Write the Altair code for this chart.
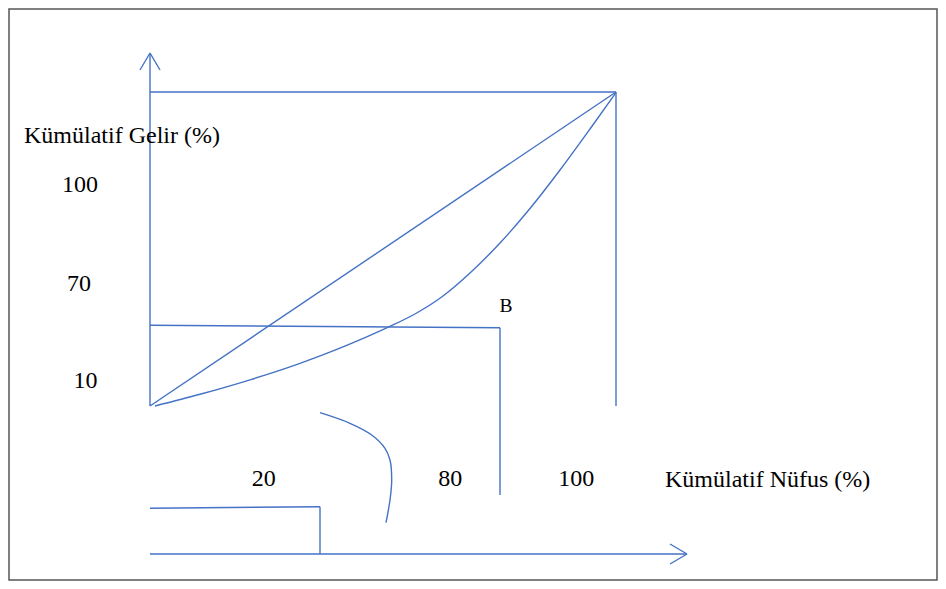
import altair as alt
import pandas as pd

# Diagram coordinates are given in the page's own pixel units (x right, y down)
# straight segments: start (x1, y1) -> end (x2, y2)
seg_name = ["y_axis", "top", "right", "diagonal", "b_horiz", "b_vert",
            "step_h", "step_v", "x_axis", "up_arm_l", "up_arm_r", "rt_arm_t", "rt_arm_b"]
seg_x1 = [150, 150, 616, 150, 150, 500, 150, 320, 150, 140, 160, 670, 670]
seg_y1 = [53, 92, 92, 406, 325.3, 327.7, 508.3, 506.7, 554, 70, 70, 544, 564]
seg_x2 = [150, 616, 616, 616, 500, 500, 320, 320, 687, 150, 150, 687, 687]
seg_y2 = [406, 92, 406, 92, 327.7, 495, 506.7, 554, 554, 53, 53, 554, 554]

# Lorenz curve
lorenz_x = [155, 200, 250, 300, 340, 366.7, 388.3, 416.7, 443, 470, 500, 530, 560, 590, 616]
lorenz_y = [406, 394.3, 379.8, 363.3, 348.1, 336.9, 327.2, 313, 296, 273, 243, 208.5, 170, 129, 92.5]

# small bracket-like curve
brace_x = [320, 350, 371.7, 385, 390, 391.7, 390, 386]
brace_y = [412.7, 423.3, 435, 448.3, 460, 480, 500, 522.7]

# labels: text, left x, baseline y, font size
label_text = ["Kümülatif Gelir (%)", "100", "70", "10", "B",
              "20", "80", "100", "Kümülatif Nüfus (%)"]
label_x = [24, 62, 67, 73.5, 499.5, 251.7, 438.3, 558.3, 665]
label_y = [143.3, 192.3, 290.7, 388.3, 311.7, 486, 486, 486, 486.7]
label_size = [24, 24, 24, 24, 19.5, 24, 24, 24, 24]

# frame around the drawing
frame_x = [9]
frame_y = [9]
frame_x2 = [937]
frame_y2 = [580]

W, H = 930, 573
BLUE = "#4472C4"
SERIF = "'Liberation Serif', 'Times New Roman', Times, serif"

xs = alt.Scale(domain=[8, 8 + W], nice=False, zero=False)
ys = alt.Scale(domain=[8, 8 + H], nice=False, zero=False, reverse=True)

segs = pd.DataFrame({"name": seg_name, "x1": seg_x1, "y1": seg_y1, "x2": seg_x2, "y2": seg_y2})
lor = pd.DataFrame({"x": lorenz_x, "y": lorenz_y, "i": range(len(lorenz_x))})
brc = pd.DataFrame({"x": brace_x, "y": brace_y, "i": range(len(brace_x))})
lab = pd.DataFrame({"t": label_text, "x": label_x, "y": label_y, "s": label_size})
frm = pd.DataFrame({"x": frame_x, "y": frame_y, "x2": frame_x2, "y2": frame_y2})

frame = alt.Chart(frm).mark_rect(fill=None, stroke="#555555", strokeWidth=1.5).encode(
    x=alt.X("x:Q", scale=xs, axis=None), x2="x2:Q",
    y=alt.Y("y:Q", scale=ys, axis=None), y2="y2:Q",
)

rules = alt.Chart(segs).mark_rule(color=BLUE, strokeWidth=1.4).encode(
    x=alt.X("x1:Q", scale=xs, axis=None), x2="x2:Q",
    y=alt.Y("y1:Q", scale=ys, axis=None), y2="y2:Q",
)

lorenz = alt.Chart(lor).mark_line(color=BLUE, strokeWidth=1.4, interpolate="monotone").encode(
    x=alt.X("x:Q", scale=xs, axis=None),
    y=alt.Y("y:Q", scale=ys, axis=None),
    order="i:Q",
)

brace = alt.Chart(brc).mark_line(color=BLUE, strokeWidth=1.4, interpolate="catmull-rom").encode(
    x=alt.X("x:Q", scale=xs, axis=None),
    y=alt.Y("y:Q", scale=ys, axis=None),
    order="i:Q",
)

texts = alt.Chart(lab).mark_text(
    align="left", baseline="alphabetic", font=SERIF, color="#000000"
).encode(
    x=alt.X("x:Q", scale=xs, axis=None),
    y=alt.Y("y:Q", scale=ys, axis=None),
    text="t:N",
    size=alt.Size("s:Q", scale=None),
)

chart = alt.layer(frame, rules, lorenz, brace, texts).properties(
    width=W, height=H, autosize=alt.AutoSizeParams(type="none"), padding=0,
    background="white",
).configure_view(stroke=None)

chart.save("out.html", embed_options={"renderer": "svg", "actions": False})
